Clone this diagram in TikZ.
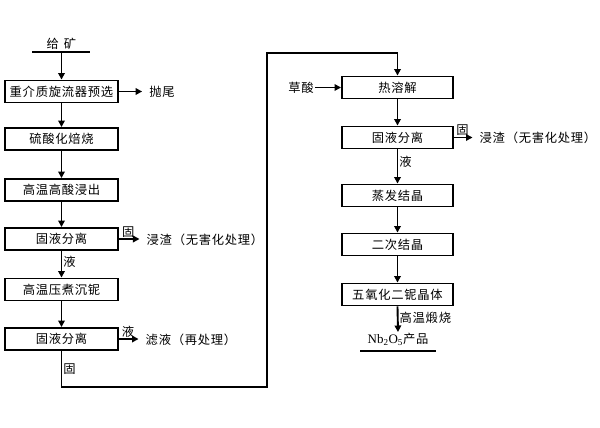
\documentclass[tikz,border=0pt]{standalone}
\usepackage{fontspec}
\newfontfamily\cjk[LetterSpace=6]{Noto Sans CJK SC}
\newfontfamily\serif{Liberation Serif}
\usetikzlibrary{arrows.meta}
\begin{document}
\begin{tikzpicture}[x=1pt,y=-1pt,
  box/.style={draw, line width=1.9pt, minimum height=22pt, inner sep=0pt, font=\cjk\fontsize{12.3}{14}\selectfont},
  lbox/.style={box, minimum width=113pt},
  rbox/.style={box, minimum width=111pt},
  lbl/.style={font=\cjk\fontsize{12.3}{14}\selectfont, inner sep=1pt},
  arr/.style={line width=1.9pt, -{Triangle[length=6.5pt,width=6.5pt]}},
  sarr/.style={arr, shorten >=6pt},
  ln/.style={line width=1.9pt}]
\useasboundingbox (0,0) rectangle (600,428);
% left column
\node[lbox] (b1) at (61.5,91.5) {重介质旋流器预选};
\node[lbox] (b2) at (61.5,139) {硫酸化焙烧};
\node[lbox] (b3) at (61.5,190) {高温高酸浸出};
\node[lbox] (b4) at (61.5,239) {固液分离};
\node[lbox] (b5) at (61.5,289.5) {高温压煮沉铌};
\node[lbox] (b6) at (61.5,339) {固液分离};
% feed
\node[lbl] (feed) at (61.5,44) {给\hspace{5pt}矿};
\coordinate (fa) at (32,52);
\coordinate (fb) at (90,52);
\coordinate (fm) at (61.5,52);
\draw[ln] (fa) -- (fb);
\draw[arr] (fm) -- (b1.north);
\draw[arr] (b1) -- (b2);
\draw[arr] (b2) -- (b3);
\draw[arr] (b3) -- (b4);
\draw[arr] (b4) -- node[lbl, right, pos=0.4] {液} (b5);
\draw[arr] (b5) -- (b6);
% side outputs left
\node[lbl] (pw) at (162,91.5) {抛尾};
\draw[sarr] (b1.east) -- (pw.west);
\node[lbl] (jz1) at (205,240) {浸渣（无害化处理）};
\draw[sarr] (b4.east) -- node[lbl, above, pos=0.35] {固} (b4.east -| jz1.west);
\node[lbl] (ly) at (191,340) {滤液（再处理）};
\draw[sarr] (b6.east) -- node[lbl, above, pos=0.35] {液} (b6.east -| ly.west);
% loop
\node[rbox] (r1) at (397.5,87.5) {热溶解};
\coordinate (c1) at (61.5,387);
\coordinate (c2) at (267,387);
\coordinate (c3) at (267,53);
\coordinate (c4) at (397.5,53);
\draw[ln] (b6.south) -- node[lbl, right, pos=0.5] {固} (c1) -- (c2) -- (c3) -- (c4);
\draw[arr] (c4) -- (r1.north);
% right column
\node[rbox] (r2) at (397.5,137.5) {固液分离};
\node[rbox] (r3) at (397.5,195.5) {蒸发结晶};
\node[rbox] (r4) at (397.5,244.5) {二次结晶};
\node[rbox] (r5) at (397.5,294.5) {五氧化二铌晶体};
\node[lbl] (cs) at (301,87.5) {草酸};
\draw[arr] (cs.east) -- (r1.west);
\draw[arr] (r1) -- (r2);
\draw[arr] (r2) -- node[lbl, right, pos=0.35] {液} (r3);
\draw[arr] (r3) -- (r4);
\draw[arr] (r4) -- (r5);
\node[lbl] (jz2) at (538,138) {浸渣（无害化处理）};
\draw[sarr] (r2.east) -- node[lbl, above, pos=0.35] {固} (r2.east -| jz2.west);
\node[lbl, anchor=north] (nb) at (398,332) {{\serif\fontsize{13}{14}\selectfont Nb\textsubscript{2}O\textsubscript{5}}产品};
\draw[arr] (r5.south) -- node[lbl, right, pos=0.45] {高温煅烧} (nb.north);
\coordinate (na) at (360,351);
\coordinate (nbb) at (436,351);
\draw[ln] (na) -- (nbb);
\end{tikzpicture}
\end{document}
